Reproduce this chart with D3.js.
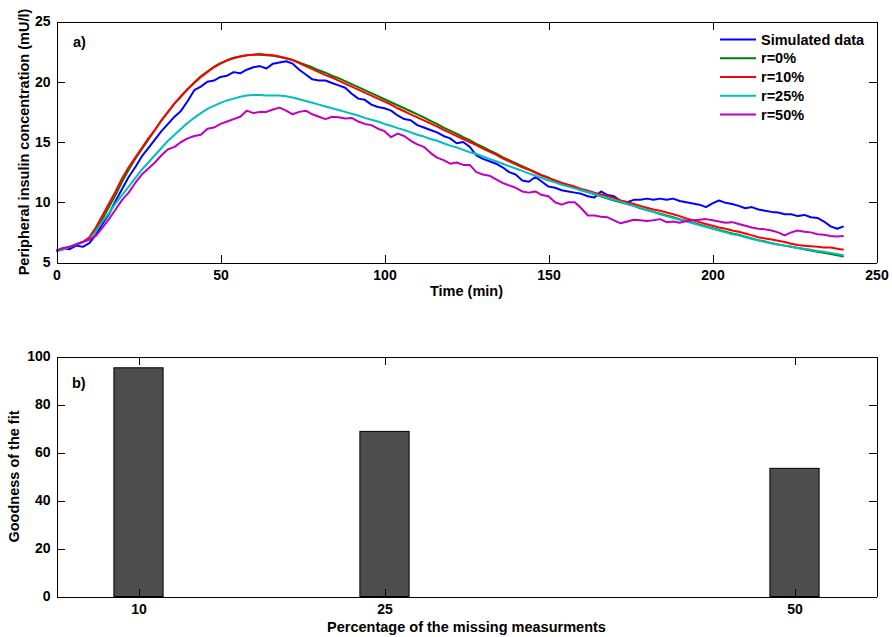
<!DOCTYPE html>
<html>
<head>
<meta charset="utf-8">
<script src="https://cdn.jsdelivr.net/npm/d3@7"></script>
<style>
  body { margin: 0; background: #fff; }
  svg { display: block; font-family: "Liberation Sans", Arial, sans-serif; font-weight: bold; }
  .axis path, .axis line { stroke: #000; stroke-width: 1; shape-rendering: crispEdges; }
  .axis text { font-size: 14px; font-weight: bold; fill: #000; }
</style>
</head>
<body>
<svg id="chart" width="892" height="637"></svg>
<script>
// time grid, every 2 minutes
const times = d3.range(0, 241, 2);

const simulated = [5.9,6.2,6.1,6.4,6.3,6.6,7.3,8.2,9.0,10.1,11.1,12.1,12.9,13.8,14.5,15.2,15.9,16.5,17.1,17.6,
  18.4,19.3,19.6,20.0,20.1,20.4,20.5,20.8,20.7,21.0,21.2,21.3,21.1,21.5,21.6,21.7,21.5,21.0,20.6,20.2,
  20.1,20.1,19.9,19.7,19.5,19.0,18.6,18.5,18.1,17.9,17.8,17.6,17.2,16.9,16.8,16.4,16.2,16.0,15.8,15.5,
  15.3,14.9,15.0,14.6,13.9,13.6,13.4,13.2,12.9,12.5,12.3,11.8,11.7,12.1,11.7,11.3,11.2,11.0,10.9,10.8,
  10.7,10.5,10.4,10.9,10.6,10.5,10.1,10.0,10.2,10.2,10.3,10.2,10.3,10.2,10.3,10.1,10.0,9.9,9.8,9.6,
  9.9,10.15,9.95,9.85,9.7,9.5,9.6,9.4,9.3,9.2,9.15,9.0,9.0,8.85,8.95,8.75,8.7,8.4,8.0,7.8,8.0];

const r0 = [6.0,6.1,6.3,6.5,6.7,7.0,7.7,8.6,9.6,10.6,11.7,12.7,13.6,14.4,15.2,16.0,16.8,17.5,18.2,18.8,
  19.4,19.95,20.45,20.85,21.25,21.55,21.8,22.0,22.1,22.2,22.25,22.25,22.2,22.15,22.05,21.95,21.8,21.6,21.4,21.2,
  20.95,20.75,20.5,20.3,20.05,19.8,19.55,19.3,19.05,18.8,18.55,18.3,18.05,17.8,17.55,17.3,17.05,16.75,16.5,16.2,
  15.95,15.7,15.4,15.15,14.85,14.6,14.3,14.05,13.75,13.5,13.25,13.0,12.75,12.5,12.25,12.05,11.8,11.6,11.4,11.2,
  11.0,10.85,10.65,10.5,10.3,10.15,10.0,9.85,9.7,9.5,9.35,9.2,9.05,8.9,8.75,8.6,8.45,8.3,8.15,8.0,
  7.85,7.7,7.55,7.4,7.3,7.15,7.0,6.85,6.75,6.6,6.5,6.4,6.3,6.2,6.1,6.0,5.9,5.8,5.7,5.6,5.5];

const r10 = [6.0,6.1,6.3,6.5,6.7,7.1,7.9,8.9,9.9,10.9,12.0,12.9,13.7,14.5,15.3,16.0,16.8,17.5,18.2,18.8,
  19.4,19.9,20.4,20.8,21.2,21.5,21.75,21.95,22.1,22.2,22.25,22.3,22.25,22.2,22.1,21.95,21.8,21.55,21.3,21.05,
  20.8,20.55,20.35,20.1,19.85,19.6,19.35,19.1,18.85,18.6,18.35,18.1,17.8,17.55,17.3,17.05,16.8,16.55,16.3,16.0,
  15.75,15.5,15.25,15.0,14.75,14.45,14.2,13.95,13.65,13.4,13.15,12.9,12.7,12.45,12.2,12.0,11.8,11.6,11.45,11.3,
  11.1,10.95,10.8,10.65,10.5,10.35,10.15,10.0,9.85,9.7,9.55,9.4,9.3,9.15,9.0,8.85,8.65,8.5,8.35,8.2,
  8.05,7.9,7.8,7.65,7.55,7.4,7.25,7.1,7.0,6.9,6.8,6.7,6.55,6.45,6.4,6.35,6.3,6.25,6.25,6.15,6.05];

const r25 = [5.9,6.1,6.3,6.5,6.7,6.9,7.6,8.4,9.1,9.9,10.6,11.3,12.0,12.7,13.3,13.9,14.5,15.1,15.6,16.1,
  16.6,17.0,17.4,17.75,18.0,18.25,18.45,18.6,18.75,18.85,18.9,18.9,18.85,18.85,18.85,18.8,18.7,18.55,18.4,18.25,
  18.1,17.95,17.8,17.65,17.5,17.35,17.2,17.0,16.85,16.7,16.5,16.35,16.15,16.0,15.8,15.6,15.45,15.25,15.1,14.9,
  14.7,14.55,14.35,14.15,14.0,13.8,13.6,13.4,13.2,13.0,12.8,12.6,12.4,12.2,12.0,11.8,11.65,11.45,11.3,11.15,
  11.0,10.85,10.7,10.5,10.35,10.2,10.05,9.85,9.7,9.55,9.35,9.2,9.0,8.85,8.7,8.55,8.4,8.25,8.1,7.95,
  7.8,7.65,7.5,7.35,7.25,7.1,6.95,6.85,6.7,6.6,6.5,6.4,6.3,6.2,6.15,6.05,5.95,5.9,5.8,5.7,5.6];

const r50 = [6.0,6.2,6.3,6.5,6.7,6.9,7.2,7.9,8.6,9.4,10.2,10.8,11.6,12.3,12.8,13.3,13.9,14.4,14.6,15.0,
  15.3,15.5,15.6,16.1,16.2,16.5,16.7,16.9,17.1,17.6,17.4,17.5,17.5,17.7,17.85,17.6,17.3,17.5,17.6,17.3,
  17.1,16.9,17.1,17.05,16.95,17.0,16.7,16.5,16.4,16.1,15.9,15.4,15.7,15.5,15.1,14.8,14.6,14.1,13.7,13.5,
  13.2,13.3,13.1,13.1,12.5,12.3,12.2,11.9,11.6,11.4,11.2,10.9,10.8,10.9,10.6,10.5,10.0,9.8,10.0,10.0,
  9.5,8.9,8.9,8.8,8.75,8.5,8.25,8.4,8.55,8.5,8.45,8.5,8.6,8.35,8.4,8.3,8.45,8.5,8.55,8.6,
  8.5,8.4,8.3,8.35,8.2,8.05,7.9,7.8,7.75,7.65,7.5,7.25,7.5,7.65,7.55,7.5,7.35,7.3,7.2,7.15,7.2];

const seriesNames = ["Simulated data", "r=0%", "r=10%", "r=25%", "r=50%"];
const seriesColors = ["#0000ff", "#008000", "#ff0000", "#00bfbf", "#bf00bf"];
const seriesValues = [simulated, r0, r10, r25, r50];

const xTicksTop = [0, 50, 100, 150, 200, 250];
const yTicksTop = [5, 10, 15, 20, 25];

// bar chart
const missingPct = [10, 25, 50];
const goodness = [95.3, 68.8, 53.4];
const yTicksBottom = [0, 20, 40, 60, 80, 100];

const svg = d3.select("#chart");
const left = 56.5, right = 876.5;
const tickLen = 8;

// ---------- a) ----------
const topY0 = 21.5, topY1 = 262.5;
const x1 = d3.scaleLinear().domain([0, 250]).range([left, right]);
const y1 = d3.scaleLinear().domain([5, 25]).range([topY1, topY0]);

const gTop = svg.append("g");

const line = d3.line()
    .x((d, i) => x1(times[i]))
    .y(d => y1(d));

seriesValues.forEach((vals, k) => {
    gTop.append("path")
        .attr("d", line(vals))
        .attr("fill", "none")
        .attr("stroke", seriesColors[k])
        .attr("stroke-width", 2)
        .attr("stroke-linejoin", "round");
});

gTop.append("g").attr("class", "axis")
    .attr("transform", `translate(0,${topY1})`)
    .call(d3.axisBottom(x1).tickValues(xTicksTop).tickSize(-tickLen).tickPadding(8).tickSizeOuter(0));
gTop.append("g").attr("class", "axis")
    .attr("transform", `translate(0,${topY0})`)
    .call(d3.axisTop(x1).tickValues(xTicksTop).tickSize(-tickLen).tickFormat("").tickSizeOuter(0));
gTop.append("g").attr("class", "axis")
    .attr("transform", `translate(${left},0)`)
    .call(d3.axisLeft(y1).tickValues(yTicksTop).tickSize(-tickLen).tickPadding(6).tickSizeOuter(0));
gTop.append("g").attr("class", "axis")
    .attr("transform", `translate(${right},0)`)
    .call(d3.axisRight(y1).tickValues(yTicksTop).tickSize(-tickLen).tickFormat("").tickSizeOuter(0));

gTop.append("text")
    .attr("x", (left + right) / 2).attr("y", 296)
    .attr("text-anchor", "middle").attr("font-size", "14.5px")
    .text("Time (min)");

gTop.append("text")
    .attr("transform", `translate(29,${(topY0 + topY1) / 2}) rotate(-90)`)
    .attr("text-anchor", "middle").attr("font-size", "14.5px")
    .text("Peripheral insulin concentration (mU/l)");

gTop.append("text")
    .attr("x", 73).attr("y", 47)
    .attr("font-size", "14.5px")
    .text("a)");

// legend
const legend = gTop.append("g");
seriesNames.forEach((name, k) => {
    const ly = 39.5 + k * 18.75;
    legend.append("line")
        .attr("x1", 720).attr("x2", 756)
        .attr("y1", ly).attr("y2", ly)
        .attr("stroke", seriesColors[k]).attr("stroke-width", 2);
    legend.append("text")
        .attr("x", 761).attr("y", ly + 5)
        .attr("font-size", "14.5px")
        .text(name);
});

// ---------- b) ----------
const botY0 = 356.5, botY1 = 596.5;
const x2 = d3.scaleLinear().domain([5, 55]).range([left, right]);
const y2 = d3.scaleLinear().domain([0, 100]).range([botY1, botY0]);
const barWidth = 3;

const gBot = svg.append("g");

gBot.selectAll("rect.bar")
    .data(missingPct)
    .enter()
    .append("rect")
    .attr("class", "bar")
    .attr("x", d => x2(d - barWidth / 2))
    .attr("width", x2(barWidth) - x2(0))
    .attr("y", (d, i) => y2(goodness[i]))
    .attr("height", (d, i) => y2(0) - y2(goodness[i]))
    .attr("fill", "#4d4d4d")
    .attr("stroke", "#000")
    .attr("stroke-width", 1);

gBot.append("g").attr("class", "axis")
    .attr("transform", `translate(0,${botY1})`)
    .call(d3.axisBottom(x2).tickValues(missingPct).tickSize(-tickLen).tickPadding(8).tickSizeOuter(0));
gBot.append("g").attr("class", "axis")
    .attr("transform", `translate(0,${botY0})`)
    .call(d3.axisTop(x2).tickValues(missingPct).tickSize(-tickLen).tickFormat("").tickSizeOuter(0));
gBot.append("g").attr("class", "axis")
    .attr("transform", `translate(${left},0)`)
    .call(d3.axisLeft(y2).tickValues(yTicksBottom).tickSize(-tickLen).tickPadding(6).tickSizeOuter(0));
gBot.append("g").attr("class", "axis")
    .attr("transform", `translate(${right},0)`)
    .call(d3.axisRight(y2).tickValues(yTicksBottom).tickSize(-tickLen).tickFormat("").tickSizeOuter(0));

gBot.append("text")
    .attr("x", (left + right) / 2).attr("y", 632)
    .attr("text-anchor", "middle").attr("font-size", "14.5px")
    .text("Percentage of the missing measurments");

gBot.append("text")
    .attr("transform", `translate(19,${(botY0 + botY1) / 2}) rotate(-90)`)
    .attr("text-anchor", "middle").attr("font-size", "14.5px")
    .text("Goodness of the fit");

gBot.append("text")
    .attr("x", 72).attr("y", 388)
    .attr("font-size", "14.5px")
    .text("b)");
</script>
</body>
</html>
